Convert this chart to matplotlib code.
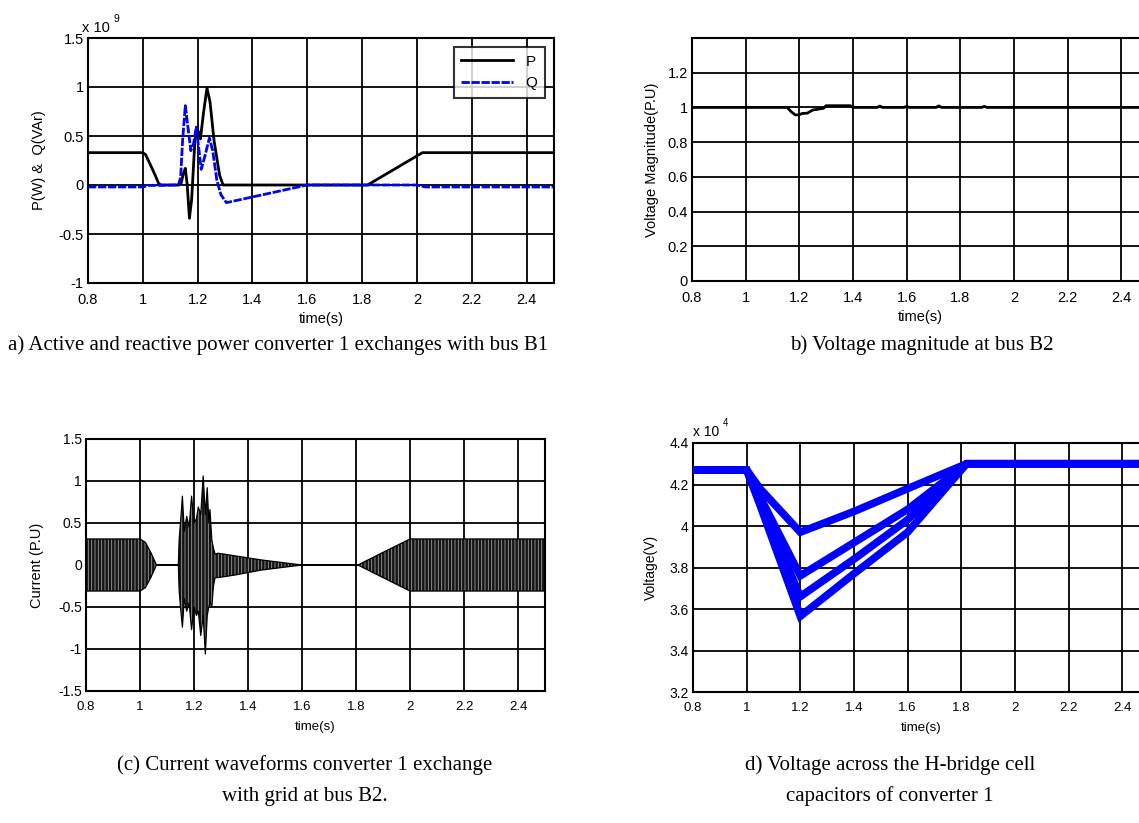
import matplotlib
matplotlib.use("Agg")
import matplotlib.pyplot as plt

plt.rcParams['font.family'] = ['Liberation Sans', 'DejaVu Sans']
plt.rcParams['hatch.linewidth'] = 0.6

W, H = 1139, 823

# ---------------- data ----------------
# (a) active / reactive power, units of 1e9
tP = [0.8, 1.0, 1.01, 1.027, 1.045, 1.057, 1.065, 1.13, 1.14, 1.148, 1.155, 1.162, 1.170, 1.178,
      1.19, 1.197, 1.205, 1.21, 1.222, 1.234, 1.245, 1.26, 1.28, 1.293, 1.82, 2.02, 2.5]
P = [0.33, 0.33, 0.31, 0.21, 0.10, 0.02, 0.0, 0.0, 0.02, 0.12, 0.17, 0.0, -0.34, -0.15,
     0.45, 0.59, 0.52, 0.47, 0.75, 0.99, 0.85, 0.45, 0.10, 0.0, 0.0, 0.33, 0.33]
tQ = [0.8, 1.0, 1.02, 1.13, 1.138, 1.145, 1.155, 1.162, 1.175, 1.185, 1.195, 1.205, 1.213,
      1.225, 1.243, 1.255, 1.27, 1.285, 1.305, 1.6, 2.0, 2.03, 2.5]
Q = [-0.02, -0.02, -0.005, 0.0, 0.08, 0.45, 0.81, 0.65, 0.35, 0.42, 0.59, 0.35, 0.16,
     0.28, 0.48, 0.35, 0.05, -0.10, -0.18, 0.0, 0.0, -0.02, -0.02]

# (b) voltage magnitude at B2 (p.u.)
tV = [0.8, 1.155, 1.17, 1.185, 1.2, 1.21, 1.23, 1.25, 1.27, 1.29, 1.30, 1.39, 1.40, 1.49, 1.50,
      1.51, 1.59, 1.60, 1.61, 1.71, 1.72, 1.73, 1.88, 1.89, 1.90, 2.5]
V = [1.0, 1.0, 0.975, 0.957, 0.957, 0.965, 0.967, 0.985, 0.99, 0.995, 1.01, 1.01, 1.0, 1.0, 1.008,
     1.0, 1.0, 1.006, 1.0, 1.0, 1.009, 1.0, 1.0, 1.006, 1.0, 1.0]

# (c) current envelope (p.u.)
tI = [0.8, 1.0, 1.02, 1.04, 1.061, 1.142, 1.145, 1.150, 1.157, 1.164, 1.173, 1.182, 1.191, 1.200,
      1.209, 1.216, 1.225, 1.234, 1.242, 1.249, 1.255, 1.259, 1.266, 1.272, 1.278, 1.29, 1.35,
      1.45, 1.55, 1.6, 1.807, 1.9, 2.0, 2.5]
I_up = [0.31, 0.31, 0.27, 0.15, 0.0, 0.0, 0.3, 0.5, 0.82, 0.4, 0.58, 0.45, 0.82, 0.5,
        0.55, 0.69, 0.6, 1.06, 0.6, 0.92, 0.5, 0.66, 0.3, 0.2, 0.13, 0.14, 0.11,
        0.06, 0.02, 0.0, 0.0, 0.15, 0.31, 0.31]
I_lo = [-0.31, -0.31, -0.27, -0.15, 0.0, 0.0, -0.3, -0.5, -0.74, -0.4, -0.55, -0.45, -0.77, -0.5,
        -0.6, -0.55, -0.84, -0.6, -1.06, -0.6, -0.5, -0.45, -0.5, -0.25, -0.15, -0.15, -0.12,
        -0.06, -0.02, 0.0, 0.0, -0.15, -0.31, -0.31]

# (d) H-bridge capacitor voltages, units of 1e4 V
tC = [0.8, 1.0, 1.05, 1.2, 1.4, 1.6, 1.82, 2.5]
C1 = [4.27, 4.27, 4.18, 3.97, 4.07, 4.18, 4.30, 4.30]
C2 = [4.27, 4.27, 4.14, 3.76, 3.92, 4.08, 4.30, 4.30]
C3 = [4.27, 4.27, 4.12, 3.66, 3.84, 4.03, 4.30, 4.30]
C4 = [4.27, 4.27, 4.10, 3.565, 3.77, 3.97, 4.30, 4.30]

xticks = [0.8, 1.0, 1.2, 1.4, 1.6, 1.8, 2.0, 2.2, 2.4]
xticklabels = ['0.8', '1', '1.2', '1.4', '1.6', '1.8', '2', '2.2', '2.4']

fig = plt.figure(figsize=(W / 100, H / 100), dpi=100)


def box(l, t, r, b):
    return [l / W, 1 - b / H, (r - l) / W, (b - t) / H]


def style(ax, fs_tick, fs_x=None):
    ax.grid(True, color='black', lw=1.3, ls='-')
    ax.set_axisbelow(True)
    for s in ax.spines.values():
        s.set_linewidth(1.5)
        s.set_color('black')
    ax.tick_params(direction='in', length=0, pad=3, labelsize=fs_tick)
    ax.tick_params(axis='x', pad=7)
    if fs_x is not None:
        ax.tick_params(axis='x', labelsize=fs_x)
    ax.set_xlim(0.8, 2.5)
    ax.set_xticks(xticks)
    ax.set_xticklabels(xticklabels)


# (a)
axA = fig.add_axes(box(88, 38, 554, 283))
axA.plot(tP, P, color='black', lw=2.0, label='P')
axA.plot(tQ, Q, color='#0000ff', lw=2.0, ls='--', dashes=(3, 0.6), label='Q')
style(axA, 10.5)
axA.set_ylim(-1, 1.5)
axA.set_yticks([-1, -0.5, 0, 0.5, 1, 1.5])
axA.set_yticklabels(['-1', '-0.5', '0', '0.5', '1', '1.5'])
axA.set_xlabel('time(s)', fontsize=10.5, labelpad=4)
axA.set_ylabel('P(W) &  Q(VAr)', fontsize=10.5, labelpad=9)
leg = axA.legend(loc='upper right', fontsize=11, frameon=True, fancybox=False,
                 handlelength=3.4, borderaxespad=0.6, labelspacing=0.5, borderpad=0.5)
leg.get_frame().set_edgecolor('black')
leg.get_frame().set_linewidth(1.5)
fig.text(82 / W, 1 - 32 / H, 'x 10', fontsize=10.5, va='baseline', ha='left')
fig.text(113 / W, 1 - 22 / H, '9', fontsize=7.5, va='baseline', ha='left')

# (b)
axB = fig.add_axes(box(692, 38, 1148, 281))
axB.plot(tV, V, color='black', lw=2.0)
style(axB, 10.5)
axB.set_ylim(0, 1.4)
axB.set_yticks([0, 0.2, 0.4, 0.6, 0.8, 1.0, 1.2, 1.4])
axB.set_yticklabels(['0', '0.2', '0.4', '0.6', '0.8', '1', '1.2', ''])
axB.set_xlabel('time(s)', fontsize=10.5, labelpad=4)
axB.set_ylabel('Voltage Magnitude(P.U)', fontsize=10.5, labelpad=6)

# (c)
axC = fig.add_axes(box(86, 439, 545, 691))
axC.fill_between(tI, I_lo, I_up, facecolor='#141414', edgecolor='#a0a0a0', hatch='|||||',
                 linewidth=0, zorder=2)
axC.plot(tI, I_up, color='black', lw=0.9, zorder=3)
axC.plot(tI, I_lo, color='black', lw=0.9, zorder=3)
style(axC, 10, 9.5)
axC.set_ylim(-1.5, 1.5)
axC.set_yticks([-1.5, -1, -0.5, 0, 0.5, 1, 1.5])
axC.set_yticklabels(['-1.5', '-1', '-0.5', '0', '0.5', '1', '1.5'])
axC.set_xlabel('time(s)', fontsize=9.5, labelpad=6)
axC.set_ylabel('Current (P.U)', fontsize=10.5, labelpad=10)

# (d)
axD = fig.add_axes(box(693, 443, 1149, 692))
for c in (C1, C2, C3, C4):
    axD.plot(tC, c, color='#0000ff', lw=5.5, solid_joinstyle='miter', zorder=3)
style(axD, 10, 9.5)
axD.set_ylim(3.2, 4.4)
axD.set_yticks([3.2, 3.4, 3.6, 3.8, 4.0, 4.2, 4.4])
axD.set_yticklabels(['3.2', '3.4', '3.6', '3.8', '4', '4.2', '4.4'])
axD.set_xlabel('time(s)', fontsize=9.5, labelpad=6)
axD.set_ylabel('Voltage(V)', fontsize=10, labelpad=8)
fig.text(693 / W, 1 - 436 / H, 'x 10', fontsize=10, va='baseline', ha='left')
fig.text(723 / W, 1 - 426 / H, '4', fontsize=7, va='baseline', ha='left')

# captions
serif = ['Liberation Serif', 'DejaVu Serif']
fig.text(8 / W, 1 - 345 / H, 'a) Active and reactive power converter 1 exchanges with bus B1',
         family=serif, fontsize=15, va='center', ha='left')
fig.text(790 / W, 1 - 345 / H, 'b) Voltage magnitude at bus B2',
         family=serif, fontsize=15, va='center', ha='left')
fig.text(305 / W, 1 - 765 / H, '(c) Current waveforms converter 1 exchange',
         family=serif, fontsize=15, va='center', ha='center')
fig.text(305 / W, 1 - 796 / H, 'with grid at bus B2.',
         family=serif, fontsize=15, va='center', ha='center')
fig.text(890 / W, 1 - 765 / H, 'd) Voltage across the H-bridge cell',
         family=serif, fontsize=15, va='center', ha='center')
fig.text(890 / W, 1 - 796 / H, 'capacitors of converter 1',
         family=serif, fontsize=15, va='center', ha='center')

fig.savefig('out.png', dpi=100)
